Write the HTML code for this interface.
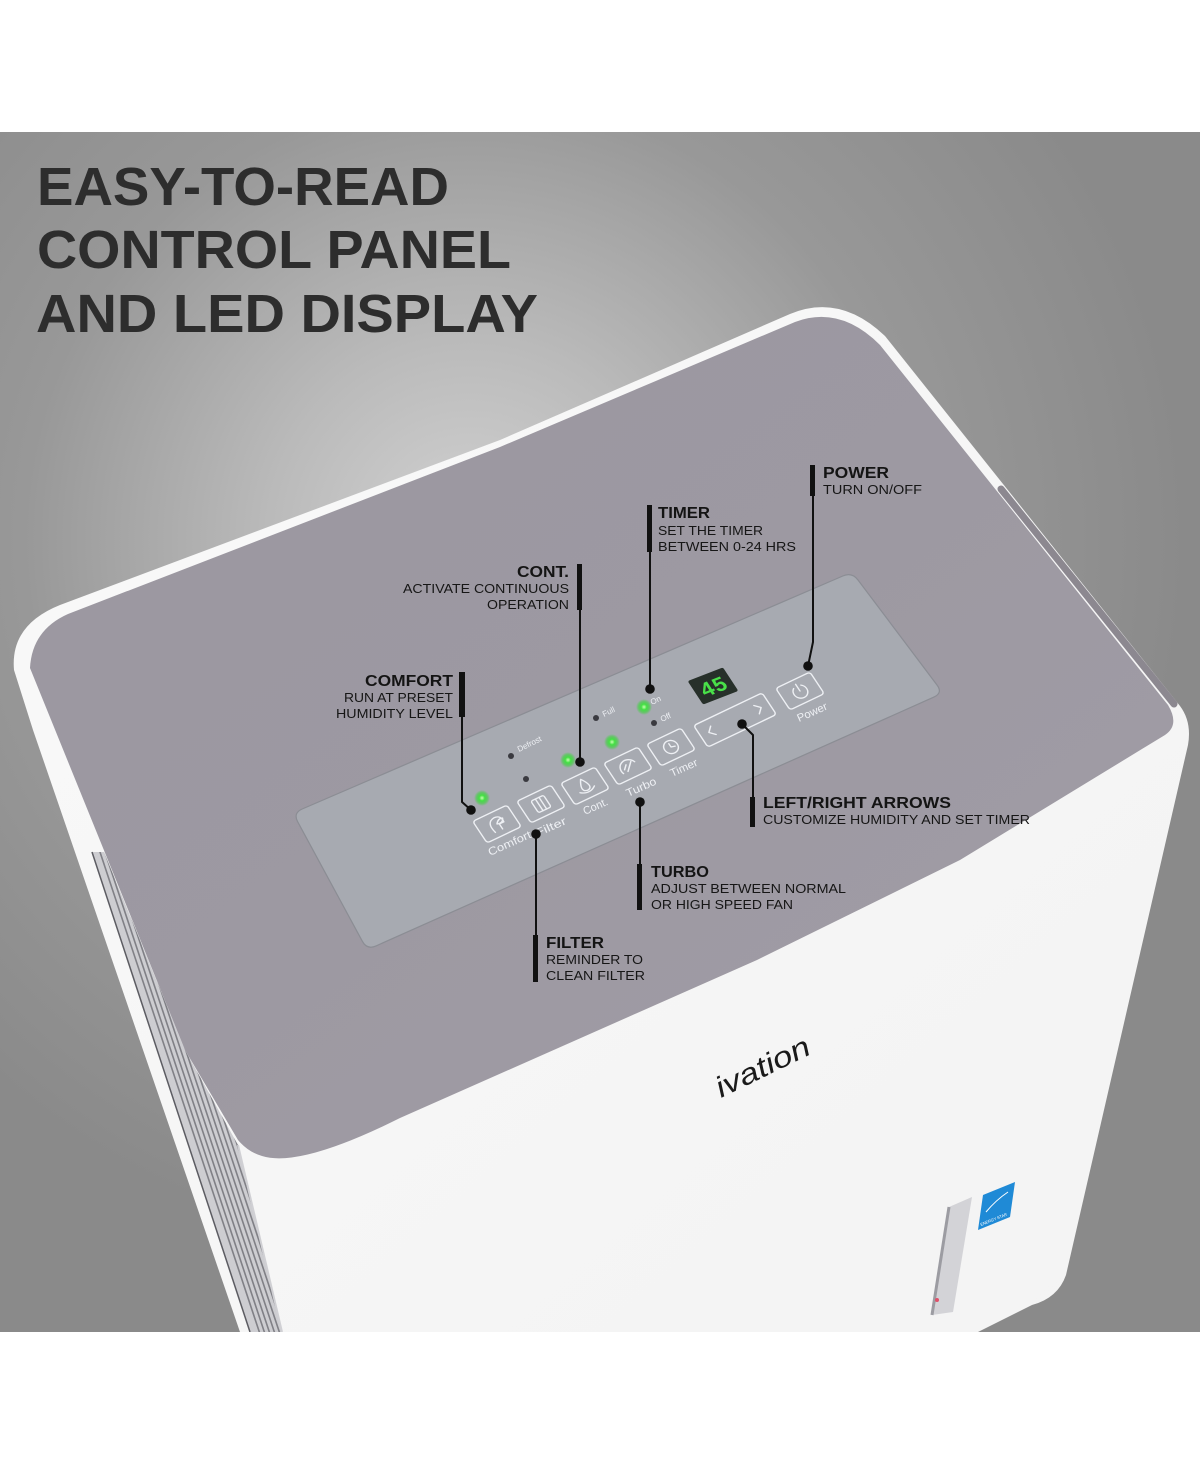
<!DOCTYPE html>
<html>
<head>
<meta charset="utf-8">
<title>Easy-to-Read Control Panel and LED Display</title>
<style>
  html,body{margin:0;padding:0;background:#fff;}
  svg{display:block;}
  .h{font-family:"Liberation Sans",Arial,sans-serif;font-weight:bold;fill:#141414;}
  .s{font-family:"Liberation Sans",Arial,sans-serif;font-weight:normal;fill:#161616;}
  .w{font-family:"Liberation Sans",Arial,sans-serif;fill:#eef0f4;}
</style>
</head>
<body>
<svg xmlns="http://www.w3.org/2000/svg" width="1200" height="1466" viewBox="0 0 1200 1466">
  <defs>
    <radialGradient id="bg" cx="470" cy="540" r="720" gradientUnits="userSpaceOnUse">
      <stop offset="0" stop-color="#d2d2d2"/>
      <stop offset="0.28" stop-color="#bababa"/>
      <stop offset="0.62" stop-color="#989898"/>
      <stop offset="1" stop-color="#8a8a8a"/>
    </radialGradient>
    <linearGradient id="topg" x1="0" y1="0" x2="1" y2="1">
      <stop offset="0" stop-color="#9b97a0"/>
      <stop offset="0.5" stop-color="#9d99a2"/>
      <stop offset="1" stop-color="#a19da6"/>
    </linearGradient>
    <linearGradient id="face" x1="0" y1="0" x2="1" y2="1">
      <stop offset="0" stop-color="#f9f9f9"/>
      <stop offset="1" stop-color="#f3f3f3"/>
    </linearGradient>
    <radialGradient id="led">
      <stop offset="0" stop-color="#c8ffb0"/>
      <stop offset="0.35" stop-color="#43e043"/>
      <stop offset="0.7" stop-color="#3ed23e" stop-opacity="0.6"/>
      <stop offset="1" stop-color="#3ed23e" stop-opacity="0"/>
    </radialGradient>
    <clipPath id="ventclip">
      <path d="M92,852 L104,852 L185,1050 L238,1145 L282,1332 L250,1332 Z"/>
    </clipPath>
  </defs>

  <!-- background -->
  <rect x="0" y="0" width="1200" height="1466" fill="#ffffff"/>
  <rect x="0" y="132" width="1200" height="1200" fill="url(#bg)"/>

  <!-- title -->
  <text class="h" x="37" y="205" font-size="54" fill="#2d2d2d" style="fill:#2d2d2d" textLength="412" lengthAdjust="spacingAndGlyphs">EASY-TO-READ</text>
  <text class="h" x="37" y="268" font-size="54" style="fill:#2d2d2d" textLength="474" lengthAdjust="spacingAndGlyphs">CONTROL PANEL</text>
  <text class="h" x="36" y="332" font-size="54" style="fill:#2d2d2d" textLength="502" lengthAdjust="spacingAndGlyphs">AND LED DISPLAY</text>

  <!-- device outer silhouette (white) -->
  <path d="M240,1332 L33,730 L14,670 Q10,625 60,605 L500,440 L790,314 Q840,293 885,336 L1180,706 Q1192,722 1188,745 L1066,1275 Q1058,1298 1032,1305 L978,1332 Z" fill="url(#face)"/>

  <!-- vent strip on left side -->
  <g clip-path="url(#ventclip)">
    <rect x="80" y="840" width="220" height="500" fill="#cdcdd1"/>
    <g stroke="#808086" stroke-width="1.6">
      <line x1="96" y1="840" x2="262" y2="1340"/>
      <line x1="101" y1="840" x2="267" y2="1340"/>
      <line x1="106" y1="840" x2="272" y2="1340"/>
      <line x1="111" y1="840" x2="277" y2="1340"/>
      <line x1="116" y1="840" x2="282" y2="1340"/>
      <line x1="121" y1="840" x2="287" y2="1340"/>
      <line x1="126" y1="840" x2="292" y2="1340"/>
      <line x1="131" y1="840" x2="297" y2="1340"/>
      <line x1="136" y1="840" x2="302" y2="1340"/>
    </g>
  </g>
  <path d="M92,852 L250,1332" stroke="#5c5c62" stroke-width="1.5" fill="none"/>
  <path d="M238,1145 L282,1332" stroke="#d0d0d4" stroke-width="2" fill="none"/>

  <!-- grey top surface -->
  <path d="M30,668 Q32,630 68,614 L500,447 L795,322 Q840,305 880,345 L1168,705 Q1180,725 1165,735 L960,860 L757,960 L400,1118 Q300,1168 262,1156 Q248,1152 238,1140 L185,1050 Z" fill="url(#topg)"/>

  <!-- right rim darker band -->
  <path d="M1001,489 L1174,704" stroke="#8c8890" stroke-width="7" fill="none" stroke-linecap="round"/>

  <!-- control panel plate -->
  <path d="M302.2,809 L842.8,576 Q852,572 858,580 L937,685 Q943,693 933.9,697.1 L376.1,945.9 Q367,950 362.3,941.2 L297.7,821.8 Q293,813 302.2,809 Z" fill="#a7aab1" stroke="#8b8d94" stroke-width="1.2"/>

  <!-- buttons -->
  <g fill="none" stroke="#eef0f4" stroke-width="1.4" stroke-linecap="round" stroke-linejoin="round">
    <!-- Comfort -->
    <g transform="matrix(0.9,-0.43,0.55,0.83,497,824)">
      <rect x="-19" y="-13" width="38" height="26" rx="3"/>
      <path d="M-6,7 Q-9,-6 1,-7 Q8,-7 7,1 L2,1 L2,7"/>
      <path d="M0,0 Q4,-5 8,-3 Q6,2 0,0"/>
    </g>
    <!-- Filter -->
    <g transform="matrix(0.9,-0.43,0.55,0.83,541,804)">
      <rect x="-19" y="-13" width="38" height="26" rx="3"/>
      <rect x="-7" y="-7" width="14" height="14" rx="2"/>
      <path d="M-2,-7 L-2,7 M2,-7 L2,7"/>
    </g>
    <!-- Cont -->
    <g transform="matrix(0.9,-0.43,0.55,0.83,585,786)">
      <rect x="-19" y="-13" width="38" height="26" rx="3"/>
      <path d="M0,-8 Q6,1 3,4 Q0,6 -3,4 Q-6,1 0,-8 Z"/>
      <path d="M-8,4 Q0,10 8,4"/>
    </g>
    <!-- Turbo -->
    <g transform="matrix(0.9,-0.43,0.55,0.83,628,766)">
      <rect x="-19" y="-13" width="38" height="26" rx="3"/>
      <path d="M-8,5 A8,8 0 0 1 8,-1"/>
      <path d="M-3,5 L5,-3 M-5,2 L-1,-2"/>
    </g>
    <!-- Timer -->
    <g transform="matrix(0.9,-0.43,0.55,0.83,671,747)">
      <rect x="-19" y="-13" width="38" height="26" rx="3"/>
      <circle cx="0" cy="0" r="7"/>
      <path d="M0,-4 L0,0 L4,1"/>
    </g>
    <!-- Arrows -->
    <g transform="matrix(0.9,-0.43,0.55,0.83,735,720)">
      <rect x="-38" y="-13" width="76" height="26" rx="3"/>
      <path d="M-24,-5 L-29,0 L-24,5"/>
      <path d="M24,-5 L29,0 L24,5"/>
    </g>
    <!-- Power -->
    <g transform="matrix(0.9,-0.43,0.55,0.83,800,691)">
      <rect x="-19" y="-13" width="38" height="26" rx="3"/>
      <path d="M-4,-5 A7,7 0 1 0 4,-5"/>
      <path d="M0,-8 L0,0"/>
    </g>
  </g>

  <!-- 7-seg display -->
  <g transform="matrix(0.93,-0.36,0.55,0.84,713,686)">
    <rect x="-19" y="-14" width="38" height="28" rx="2" fill="#27302a"/>
    <text x="0" y="8" text-anchor="middle" font-family="Liberation Mono, monospace" font-weight="bold" font-size="22" fill="#49e049">45</text>
  </g>

  <!-- small panel texts -->
  <text class="w" font-size="8" transform="translate(519,752) rotate(-26)">Defrost</text>
  <text class="w" font-size="8" transform="translate(604,717) rotate(-26)">Full</text>
  <text class="w" font-size="8" transform="translate(652,705) rotate(-26)">On</text>
  <text class="w" font-size="8" transform="translate(662,722) rotate(-26)">Off</text>

  <!-- button labels -->
  <text class="w" font-size="11" transform="translate(490,856) rotate(-24)" textLength="46" lengthAdjust="spacingAndGlyphs">Comfort</text>
  <text class="w" font-size="11" transform="translate(537,837) rotate(-24)" textLength="33" lengthAdjust="spacingAndGlyphs">Filter</text>
  <text class="w" font-size="11" transform="translate(585,815) rotate(-24)" textLength="26" lengthAdjust="spacingAndGlyphs">Cont.</text>
  <text class="w" font-size="11" transform="translate(628,797) rotate(-24)" textLength="32" lengthAdjust="spacingAndGlyphs">Turbo</text>
  <text class="w" font-size="11" transform="translate(672,777) rotate(-24)" textLength="29" lengthAdjust="spacingAndGlyphs">Timer</text>
  <text class="w" font-size="11" transform="translate(799,722) rotate(-24)" textLength="32" lengthAdjust="spacingAndGlyphs">Power</text>

  <!-- LEDs -->
  <circle cx="482" cy="798" r="8" fill="url(#led)"/>
  <circle cx="568" cy="760" r="8" fill="url(#led)"/>
  <circle cx="612" cy="742" r="8" fill="url(#led)"/>
  <circle cx="644" cy="707" r="8" fill="url(#led)"/>
  <g fill="#3a3a40">
    <circle cx="511" cy="756" r="3"/>
    <circle cx="526" cy="779" r="3"/>
    <circle cx="596" cy="718" r="3"/>
    <circle cx="654" cy="723" r="3"/>
  </g>

  <!-- connectors -->
  <g stroke="#111" stroke-width="2" fill="none" stroke-linejoin="round">
    <path d="M813,495 L813,642 L808,666"/>
    <path d="M650,552 L650,689"/>
    <path d="M580,610 L580,762"/>
    <path d="M462,717 L462,802 L471,810"/>
    <path d="M742,724 L753,735 L753,797"/>
    <path d="M640,802 L640,864"/>
    <path d="M536,834 L536,935"/>
  </g>
  <g fill="#111">
    <circle cx="808" cy="666" r="4.8"/>
    <circle cx="650" cy="689" r="4.8"/>
    <circle cx="580" cy="762" r="4.8"/>
    <circle cx="471" cy="810" r="4.8"/>
    <circle cx="742" cy="724" r="4.8"/>
    <circle cx="640" cy="802" r="4.8"/>
    <circle cx="536" cy="834" r="4.8"/>
    <!-- label bars -->
    <rect x="810" y="465" width="5" height="31"/>
    <rect x="647" y="505" width="5" height="47"/>
    <rect x="577" y="564" width="5" height="46"/>
    <rect x="459" y="672" width="6" height="45"/>
    <rect x="750" y="797" width="5" height="30"/>
    <rect x="637" y="864" width="5" height="46"/>
    <rect x="533" y="935" width="5" height="47"/>
  </g>

  <!-- labels -->
  <text class="h" x="823" y="478" font-size="16" textLength="66" lengthAdjust="spacingAndGlyphs">POWER</text>
  <text class="s" x="823" y="494" font-size="13" textLength="99" lengthAdjust="spacingAndGlyphs">TURN ON/OFF</text>

  <text class="h" x="658" y="518" font-size="16" textLength="52" lengthAdjust="spacingAndGlyphs">TIMER</text>
  <text class="s" x="658" y="535" font-size="13" textLength="105" lengthAdjust="spacingAndGlyphs">SET THE TIMER</text>
  <text class="s" x="658" y="551" font-size="13" textLength="138" lengthAdjust="spacingAndGlyphs">BETWEEN 0-24 HRS</text>

  <text class="h" x="517" y="577" font-size="16" textLength="52" lengthAdjust="spacingAndGlyphs">CONT.</text>
  <text class="s" x="403" y="593" font-size="13" textLength="166" lengthAdjust="spacingAndGlyphs">ACTIVATE CONTINUOUS</text>
  <text class="s" x="487" y="609" font-size="13" textLength="82" lengthAdjust="spacingAndGlyphs">OPERATION</text>

  <text class="h" x="365" y="686" font-size="16" textLength="88" lengthAdjust="spacingAndGlyphs">COMFORT</text>
  <text class="s" x="344" y="702" font-size="13" textLength="109" lengthAdjust="spacingAndGlyphs">RUN AT PRESET</text>
  <text class="s" x="336" y="718" font-size="13" textLength="117" lengthAdjust="spacingAndGlyphs">HUMIDITY LEVEL</text>

  <text class="h" x="763" y="808" font-size="16" textLength="188" lengthAdjust="spacingAndGlyphs">LEFT/RIGHT ARROWS</text>
  <text class="s" x="763" y="824" font-size="13" textLength="267" lengthAdjust="spacingAndGlyphs">CUSTOMIZE HUMIDITY AND SET TIMER</text>

  <text class="h" x="651" y="877" font-size="16" textLength="58" lengthAdjust="spacingAndGlyphs">TURBO</text>
  <text class="s" x="651" y="893" font-size="13" textLength="195" lengthAdjust="spacingAndGlyphs">ADJUST BETWEEN NORMAL</text>
  <text class="s" x="651" y="909" font-size="13" textLength="142" lengthAdjust="spacingAndGlyphs">OR HIGH SPEED FAN</text>

  <text class="h" x="546" y="948" font-size="16" textLength="58" lengthAdjust="spacingAndGlyphs">FILTER</text>
  <text class="s" x="546" y="964" font-size="13" textLength="97" lengthAdjust="spacingAndGlyphs">REMINDER TO</text>
  <text class="s" x="546" y="980" font-size="13" textLength="99" lengthAdjust="spacingAndGlyphs">CLEAN FILTER</text>

  <!-- logo -->
  <text transform="translate(721,1098) rotate(-26)" font-family="Liberation Sans, Arial, sans-serif" font-style="italic" font-size="29" fill="#1a1a1a" textLength="102" lengthAdjust="spacingAndGlyphs">ivation</text>

  <!-- water level window -->
  <path d="M949,1207 L972,1197 L953,1312 L932,1315 Z" fill="#d3d3d7"/>
  <path d="M949,1207 L932,1315" stroke="#9c9ca2" stroke-width="3" fill="none"/>
  <circle cx="937" cy="1300" r="2" fill="#e0506a"/>

  <!-- energy star badge -->
  <path d="M983,1195 L1015,1182 L1010,1217 L978,1230 Z" fill="#1f8ad6"/>
  <path d="M986,1212 Q996,1200 1008,1192" stroke="#ffffff" stroke-width="1" fill="none"/>
  <text transform="translate(981,1226) rotate(-22)" font-family="Liberation Sans, Arial, sans-serif" font-size="4" fill="#ffffff">ENERGY STAR</text>

  <!-- bottom white band -->
  <rect x="0" y="1332" width="1200" height="134" fill="#ffffff"/>
  <rect x="0" y="0" width="1200" height="132" fill="#ffffff"/>
</svg>
</body>
</html>
